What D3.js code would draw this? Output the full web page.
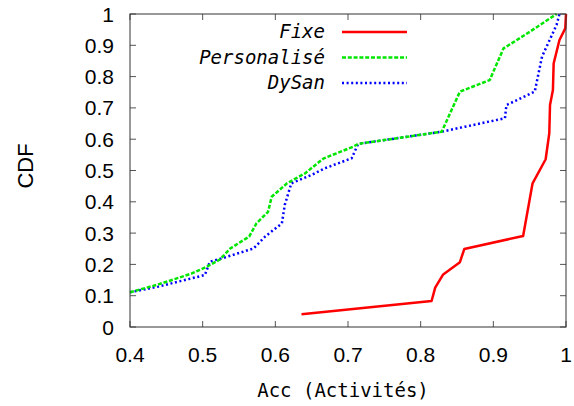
<!DOCTYPE html>
<html>
<head>
<meta charset="utf-8">
<script src="https://cdn.jsdelivr.net/npm/d3@7"></script>
<style>
  html, body { margin: 0; padding: 0; background: #fff; }
  svg { display: block; }
</style>
</head>
<body>
<svg id="chart" width="574" height="406"></svg>
<script>
// Accuracy CDF for three configurations
const seriesNames = ["Fixe", "Personalisé", "DySan"];

const fixeAcc = [0.636, 0.815, 0.820, 0.831, 0.854, 0.860, 0.941, 0.954, 0.972, 0.977, 0.978, 0.982, 0.983, 0.991, 0.999, 1.0];
const fixeCdf = [0.041, 0.083, 0.126, 0.168, 0.207, 0.249, 0.291, 0.459, 0.536, 0.619, 0.709, 0.757, 0.842, 0.917, 0.954, 1.0];

const persoAcc = [0.4, 0.439, 0.485, 0.506, 0.524, 0.538, 0.564, 0.574, 0.590, 0.595, 0.616, 0.641, 0.666, 0.707, 0.714, 0.829, 0.854, 0.895, 0.914, 0.950, 0.987];
const persoCdf = [0.111, 0.136, 0.171, 0.193, 0.216, 0.251, 0.289, 0.331, 0.368, 0.416, 0.459, 0.491, 0.538, 0.576, 0.585, 0.624, 0.752, 0.789, 0.890, 0.943, 1.0];

const dysanAcc = [0.4, 0.439, 0.503, 0.510, 0.526, 0.570, 0.586, 0.609, 0.613, 0.622, 0.650, 0.668, 0.705, 0.714, 0.829, 0.916, 0.918, 0.957, 0.967, 0.987, 0.991];
const dysanCdf = [0.111, 0.129, 0.166, 0.209, 0.219, 0.251, 0.289, 0.331, 0.390, 0.459, 0.486, 0.507, 0.539, 0.585, 0.624, 0.667, 0.709, 0.752, 0.864, 0.965, 1.0];

const xTicks = [0.4, 0.5, 0.6, 0.7, 0.8, 0.9, 1];
const yTicks = [0, 0.1, 0.2, 0.3, 0.4, 0.5, 0.6, 0.7, 0.8, 0.9, 1];
const xTickLabels = ["0.4", "0.5", "0.6", "0.7", "0.8", "0.9", "1"];
const yTickLabels = ["0", "0.1", "0.2", "0.3", "0.4", "0.5", "0.6", "0.7", "0.8", "0.9", "1"];

const margin = { left: 130, right: 8, top: 14, bottom: 79 };
const W = 574, H = 406;
const innerW = W - margin.left - margin.right;
const innerH = H - margin.top - margin.bottom;

const svg = d3.select("#chart");
const g = svg.append("g").attr("transform", `translate(${margin.left},${margin.top})`);

const x = d3.scaleLinear().domain([0.4, 1]).range([0, innerW]);
const y = d3.scaleLinear().domain([0, 1]).range([innerH, 0]);

const sansFont = "'Liberation Sans', Arial, sans-serif";
const monoFont = "'DejaVu Sans Mono', monospace";
const tickLen = 6;

// ticks on all four sides, pointing inward
const tickColor = "#555";
const ticks = g.append("g");
xTicks.forEach(v => {
  ticks.append("line").attr("x1", x(v)).attr("x2", x(v)).attr("y1", innerH).attr("y2", innerH - tickLen)
    .attr("stroke", tickColor).attr("stroke-width", 1);
  ticks.append("line").attr("x1", x(v)).attr("x2", x(v)).attr("y1", 0).attr("y2", tickLen)
    .attr("stroke", tickColor).attr("stroke-width", 1);
});
yTicks.forEach(v => {
  ticks.append("line").attr("x1", 0).attr("x2", tickLen).attr("y1", y(v)).attr("y2", y(v))
    .attr("stroke", tickColor).attr("stroke-width", 1);
  ticks.append("line").attr("x1", innerW).attr("x2", innerW - tickLen).attr("y1", y(v)).attr("y2", y(v))
    .attr("stroke", tickColor).attr("stroke-width", 1);
});

// tick labels
g.append("g").selectAll("text").data(xTicks).join("text")
  .attr("x", d => x(d)).attr("y", innerH + 35)
  .attr("text-anchor", "middle")
  .attr("font-family", sansFont).attr("font-size", 21)
  .text((d, i) => xTickLabels[i]);

g.append("g").selectAll("text").data(yTicks).join("text")
  .attr("x", -16).attr("y", d => y(d)).attr("dy", "0.36em")
  .attr("text-anchor", "end")
  .attr("font-family", sansFont).attr("font-size", 21)
  .text((d, i) => yTickLabels[i]);

// axis titles
svg.append("text")
  .attr("x", 343).attr("y", 397)
  .attr("text-anchor", "middle")
  .attr("font-family", monoFont).attr("font-size", 19)
  .text("Acc (Activités)");

svg.append("text")
  .attr("transform", "translate(33,166) rotate(-90)")
  .attr("text-anchor", "middle")
  .attr("font-family", sansFont).attr("font-size", 22)
  .text("CDF");

// curves
const styles = [
  { color: "#ff0000", dash: null, width: 2.5 },
  { color: "#00e600", dash: "4,1.8", width: 2.5 },
  { color: "#0000ff", dash: "2,2.6", width: 2.5 }
];
const series = [
  fixeAcc.map((a, i) => [a, fixeCdf[i]]),
  persoAcc.map((a, i) => [a, persoCdf[i]]),
  dysanAcc.map((a, i) => [a, dysanCdf[i]])
];

const line = d3.line().x(d => x(d[0])).y(d => y(d[1]));

const clip = svg.append("clipPath").attr("id", "plotclip")
  .append("rect").attr("x", -2).attr("y", -2).attr("width", innerW + 4).attr("height", innerH + 4);

const curves = g.append("g").attr("clip-path", "url(#plotclip)");
// draw DySan first so the others overlap it, Fixe last
[2, 1, 0].forEach(i => {
  curves.append("path")
    .attr("d", line(series[i]))
    .attr("fill", "none")
    .attr("stroke", styles[i].color)
    .attr("stroke-width", styles[i].width)
    .attr("stroke-dasharray", styles[i].dash)
    .attr("stroke-linejoin", "round");
});

// frame
g.append("rect").attr("x", 0).attr("y", 0).attr("width", innerW).attr("height", innerH)
  .attr("fill", "none").attr("stroke", "#333").attr("stroke-width", 1);

// legend
const legendRows = [32, 57.5, 83];
const legend = svg.append("g");
seriesNames.forEach((name, i) => {
  legend.append("text")
    .attr("x", 325).attr("y", legendRows[i]).attr("dy", "0.34em")
    .attr("text-anchor", "end")
    .attr("font-family", monoFont).attr("font-style", "italic").attr("font-size", 19)
    .text(name);
  legend.append("line")
    .attr("x1", 342).attr("x2", 407).attr("y1", legendRows[i]).attr("y2", legendRows[i])
    .attr("stroke", styles[i].color)
    .attr("stroke-width", styles[i].width)
    .attr("stroke-dasharray", styles[i].dash);
});
</script>
</body>
</html>
